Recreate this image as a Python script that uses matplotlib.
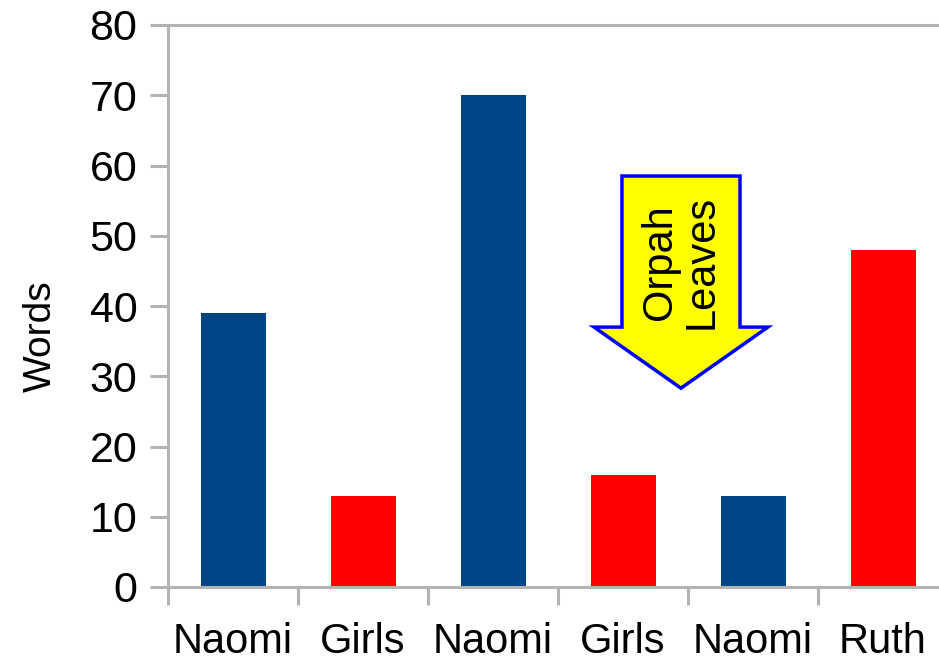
import matplotlib
matplotlib.use("Agg")
import matplotlib.pyplot as plt
from matplotlib.patches import Polygon

categories = ["Naomi", "Girls", "Naomi", "Girls", "Naomi", "Ruth"]
words = [39, 13, 70, 16, 13, 48]
bar_colors = ["#004586", "#ff0000", "#004586", "#ff0000", "#004586", "#ff0000"]
y_ticks = [0, 10, 20, 30, 40, 50, 60, 70, 80]
arrow_label = "Orpah\nLeaves"

plt.rcParams["font.family"] = ["Liberation Sans", "DejaVu Sans"]

fig = plt.figure(figsize=(9.39, 6.60), dpi=100)
ax = fig.add_axes([168/939, 1-587/660, 780/939, 562/660])

x = list(range(len(categories)))
ax.bar(x, words, width=0.5, color=bar_colors, zorder=2)

ax.set_xlim(-0.5, len(categories)-0.5)
ax.set_ylim(0, 80)
ax.set_yticks(y_ticks)
ax.set_xticks([i - 0.5 for i in range(len(categories))], minor=False)
ax.set_xticklabels([""]*len(categories))
ax.set_xticks(x, minor=True)
ax.set_xticklabels(categories, minor=True)

gray = "#b3b3b3"
for s in ["left", "bottom", "top"]:
    ax.spines[s].set_color(gray)
    ax.spines[s].set_linewidth(2.2)
ax.spines["right"].set_visible(False)
ax.tick_params(axis="y", which="major", length=13, width=2.2, color=gray,
               labelsize=31, pad=9)
ax.tick_params(axis="x", which="major", length=13, width=2.2, color=gray)
ax.tick_params(axis="x", which="minor", length=0, labelsize=30, pad=25)

ax.set_ylabel("Words", fontsize=28, labelpad=0)
ax.yaxis.set_label_coords(-0.140, 0.447)

# annotation arrow (data coordinates)
arrow_x = [2.992, 3.9, 3.9, 4.115, 3.446, 2.777, 2.992]
arrow_y = [58.5, 58.5, 37.0, 37.0, 28.3, 37.0, 37.0]
poly = Polygon(list(zip(arrow_x, arrow_y)), closed=True, facecolor="#ffff00",
               edgecolor="#0000ff", linewidth=2.5, zorder=3, joinstyle="miter")
ax.add_patch(poly)
ax.text(3.446, 46.3, arrow_label, rotation=90, ha="center", va="center",
        fontsize=30, linespacing=1.05, zorder=4)

fig.savefig("out.png", dpi=100)
